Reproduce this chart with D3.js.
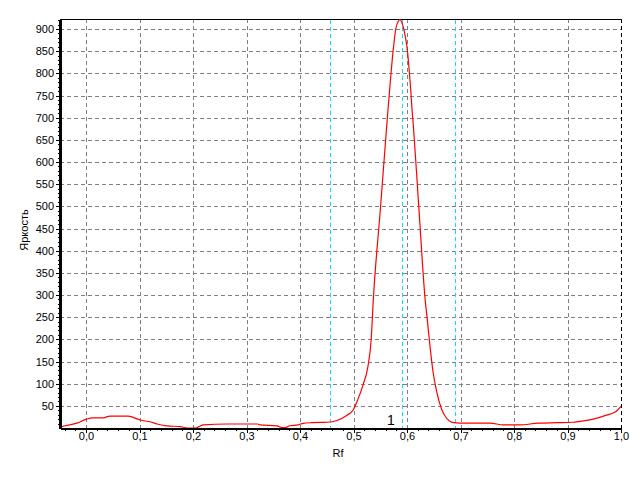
<!DOCTYPE html>
<html>
<head>
<meta charset="utf-8">
<script src="https://cdn.jsdelivr.net/npm/d3@7"></script>
<style>
  html, body { margin: 0; padding: 0; background: #fff; }
  svg { display: block; }
  text { font-family: "Liberation Sans", Arial, sans-serif; }
</style>
</head>
<body>
<svg id="chart" width="640" height="480"></svg>
<script>
// ---- Data ----
const rfValues = [-0.0486, -0.039, -0.017, 0.001, 0.011, 0.032, 0.045, 0.079, 0.088, 0.101, 0.12, 0.133, 0.151, 0.176, 0.19, 0.205, 0.211, 0.219, 0.264, 0.321, 0.325, 0.357, 0.366, 0.372, 0.381, 0.396, 0.404, 0.422, 0.452, 0.469, 0.488, 0.499, 0.508, 0.518, 0.527, 0.533, 0.537, 0.55, 0.562, 0.568, 0.574, 0.579, 0.584, 0.587, 0.590, 0.595, 0.601, 0.604, 0.607, 0.609, 0.612, 0.622, 0.634, 0.638, 0.643, 0.649, 0.656, 0.665, 0.674, 0.687, 0.699, 0.755, 0.78, 0.811, 0.845, 0.88, 0.91, 0.923, 0.948, 0.973, 0.989, 1.0];
const brightness = [2, 5, 11, 20, 23, 23, 27, 27, 24, 18, 14, 9, 5, 3, 0, 0, 3, 7, 9, 9, 7, 5, 1, 1, 5, 7, 10, 12, 13, 17, 29, 40, 64, 98, 139, 199, 289, 490, 680, 770, 850, 900, 918, 921, 916, 894, 849, 808, 762, 725, 680, 500, 289, 244, 184, 124, 79, 41, 22, 12, 11, 11, 7, 7, 11, 12, 13, 15, 20, 29, 36, 49];
const xTickValues = [0, 0.1, 0.2, 0.3, 0.4, 0.5, 0.6, 0.7, 0.8, 0.9, 1.0];
const xTickLabels = ["0,0", "0,1", "0,2", "0,3", "0,4", "0,5", "0,6", "0,7", "0,8", "0,9", "1,0"];
const yTickValues = [50, 100, 150, 200, 250, 300, 350, 400, 450, 500, 550, 600, 650, 700, 750, 800, 850, 900];
const markerLines = [0.456, 0.59, 0.69];
const peakLabels = ["1"];
const peakLabelRf = [0.57];
const xTitle = "Rf";
const yTitle = "Яркость";

// ---- Layout ----
const L = 60, R = 621, T = 19, B = 428;
const svg = d3.select("#chart");
const x = d3.scaleLinear().domain([-0.0486, 1.0]).range([L, R]);
const y = d3.scaleLinear().domain([0, 922.6]).range([B, T]);

const points = rfValues.map((r, i) => [r, brightness[i]]);

// grid
const grid = svg.append("g").attr("shape-rendering", "crispEdges");
grid.selectAll("line.h").data(yTickValues).join("line")
  .attr("x1", L).attr("x2", R)
  .attr("y1", d => Math.round(y(d)) + 0.5).attr("y2", d => Math.round(y(d)) + 0.5)
  .attr("stroke", "#808080").attr("stroke-dasharray", "4,3");
grid.selectAll("line.v").data(xTickValues.filter(d => d < 1)).join("line")
  .attr("x1", d => Math.round(x(d)) + 0.5).attr("x2", d => Math.round(x(d)) + 0.5)
  .attr("y1", T).attr("y2", B)
  .attr("stroke", "#808080").attr("stroke-dasharray", "4,3");

// frame top & right
svg.append("line").attr("x1", L).attr("x2", R + 1).attr("y1", T + 0.5).attr("y2", T + 0.5)
  .attr("stroke", "#000").attr("shape-rendering", "crispEdges");
svg.append("line").attr("x1", Math.round(x(1.0)) + 0.5).attr("x2", Math.round(x(1.0)) + 0.5)
  .attr("y1", T).attr("y2", B).attr("stroke", "#000").attr("stroke-dasharray", "4,3")
  .attr("shape-rendering", "crispEdges");

// marker lines (cyan)
svg.append("g").selectAll("line").data(markerLines).join("line")
  .attr("x1", d => Math.round(x(d)) + 0.5).attr("x2", d => Math.round(x(d)) + 0.5)
  .attr("y1", T + 1).attr("y2", B)
  .attr("stroke", "#00e5ff").attr("stroke-dasharray", "4,3")
  .attr("shape-rendering", "crispEdges");

// curve
svg.append("path").datum(points)
  .attr("fill", "none").attr("stroke", "#ff0000").attr("stroke-width", 1.2)
  .attr("d", d3.line().x(d => x(d[0])).y(d => y(d[1])).curve(d3.curveMonotoneX));

// x axis minor
const minorX = d3.range(-0.04, 1.001, 0.02).map(v => +v.toFixed(2));
svg.append("g").attr("transform", `translate(0,${B})`)
  .call(d3.axisBottom(x).tickValues(minorX).tickSize(3).tickFormat(""))
  .call(g => g.select(".domain").remove())
  .attr("shape-rendering", "crispEdges");
// x axis major
const xAxis = svg.append("g").attr("transform", `translate(0,${B})`)
  .call(d3.axisBottom(x).tickValues(xTickValues).tickSize(5).tickSizeOuter(0)
    .tickFormat((d, i) => xTickLabels[i]))
  .attr("shape-rendering", "crispEdges");
xAxis.select(".domain").attr("stroke-width", 2);
xAxis.selectAll("text").attr("font-size", 11).attr("fill", "#000").attr("dy", "0.6em").attr("y", 5);

// y axis minor
const minorY = d3.range(10, 921, 10);
svg.append("g").attr("transform", `translate(${L},0)`)
  .call(d3.axisLeft(y).tickValues(minorY).tickSize(2).tickFormat(""))
  .call(g => g.select(".domain").remove())
  .attr("shape-rendering", "crispEdges");
const yAxis = svg.append("g").attr("transform", `translate(${L},0)`)
  .call(d3.axisLeft(y).tickValues(yTickValues).tickSize(4).tickSizeOuter(0))
  .attr("shape-rendering", "crispEdges");
yAxis.select(".domain").attr("stroke-width", 2.5);
yAxis.selectAll("text").attr("font-size", 11).attr("fill", "#000").attr("x", -6);

// peak label
svg.append("g").selectAll("text").data(peakLabels).join("text")
  .attr("x", (d, i) => x(peakLabelRf[i])).attr("y", 425)
  .attr("text-anchor", "middle").attr("font-size", 14).text(d => d);

// titles
svg.append("text").attr("x", 338).attr("y", 457).attr("text-anchor", "middle")
  .attr("font-size", 11).text(xTitle);
svg.append("text").attr("transform", "translate(28,230) rotate(-90)")
  .attr("text-anchor", "middle").attr("font-size", 11).text(yTitle);
</script>
</body>
</html>
